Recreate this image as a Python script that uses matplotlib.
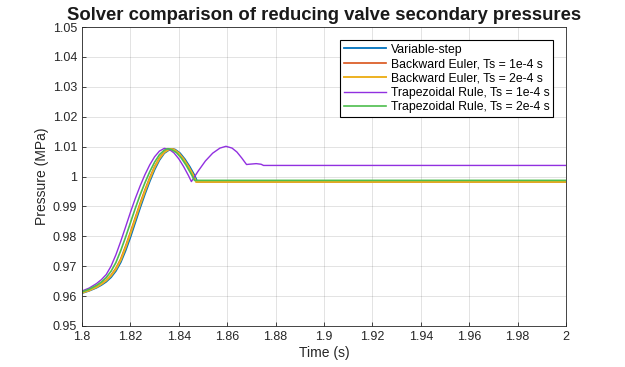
import matplotlib
matplotlib.use("Agg")
import matplotlib.pyplot as plt

plt.rcParams['font.family'] = ['Liberation Sans', 'DejaVu Sans']

labels = ["Variable-step", "Backward Euler, Ts = 1e-4 s", "Backward Euler, Ts = 2e-4 s",
          "Trapezoidal Rule, Ts = 1e-4 s", "Trapezoidal Rule, Ts = 2e-4 s"]
colors = ["#0072BD", "#D95319", "#EDB120", "#9130E0", "#4DBE4D"]

# Variable-step
t_vs = [1.800, 1.803, 1.806, 1.808, 1.810, 1.812, 1.814, 1.816, 1.818, 1.820, 1.822, 1.824,
        1.826, 1.828, 1.830, 1.832, 1.834, 1.836, 1.8375, 1.8385, 1.8405, 1.8425, 1.8445,
        1.8465, 1.8477, 2.000]
p_vs = [0.9610, 0.9618, 0.9628, 0.9637, 0.9648, 0.9663, 0.9684, 0.9713, 0.9752, 0.9797, 0.9846, 0.9895,
        0.9941, 0.9984, 1.0023, 1.0055, 1.0078, 1.0089, 1.0092, 1.0090, 1.0078, 1.0058, 1.0033,
        1.0004, 0.9982, 0.9982]
# Backward Euler 1e-4
t_be1 = [1.800, 1.803, 1.806, 1.808, 1.810, 1.812, 1.814, 1.816, 1.818, 1.820, 1.822, 1.824,
         1.826, 1.828, 1.830, 1.832, 1.834, 1.836, 1.837, 1.838, 1.840, 1.842, 1.844, 1.846,
         1.8472, 2.000]
p_be1 = [0.9612, 0.9620, 0.9631, 0.9641, 0.9653, 0.9670, 0.9693, 0.9724, 0.9767, 0.9813, 0.9862, 0.9910,
         0.9955, 0.9996, 1.0033, 1.0062, 1.0082, 1.0091, 1.0092, 1.0090, 1.0078, 1.0058, 1.0033, 1.0004,
         0.9982, 0.9982]
# Backward Euler 2e-4
t_be2 = [1.800, 1.803, 1.806, 1.808, 1.810, 1.812, 1.814, 1.816, 1.818, 1.820, 1.822, 1.824,
         1.826, 1.828, 1.830, 1.832, 1.834, 1.836, 1.837, 1.838, 1.840, 1.842, 1.844, 1.846,
         1.8472, 2.000]
p_be2 = [0.9611, 0.9619, 0.9630, 0.9640, 0.9652, 0.9668, 0.9690, 0.9720, 0.9762, 0.9808, 0.9857, 0.9905,
         0.9950, 0.9992, 1.0030, 1.0060, 1.0081, 1.0091, 1.0092, 1.0090, 1.0078, 1.0058, 1.0033, 1.0004,
         0.9982, 0.9982]
# Trapezoidal 1e-4
t_tr1 = [1.800, 1.803, 1.806, 1.808, 1.810, 1.812, 1.814, 1.816, 1.818, 1.820, 1.822, 1.824,
         1.826, 1.828, 1.830, 1.832, 1.834, 1.836, 1.838, 1.840, 1.842, 1.844, 1.8452,
         1.848, 1.851, 1.854, 1.857, 1.8595, 1.862, 1.864, 1.866, 1.868, 1.869, 1.872, 1.874,
         1.875, 2.000]
p_tr1 = [0.9617, 0.9627, 0.9642, 0.9655, 0.9672, 0.9700, 0.9738, 0.9783, 0.9831, 0.9880, 0.9926, 0.9968,
         1.0006, 1.0039, 1.0066, 1.0085, 1.0094, 1.0091, 1.0079, 1.0059, 1.0033, 1.0003, 0.9983,
         1.0018, 1.0052, 1.0078, 1.0095, 1.0101, 1.0095, 1.0082, 1.0062, 1.0040, 1.0041, 1.0043, 1.0041,
         1.0037, 1.0037]
# Trapezoidal 2e-4
t_tr2 = [1.800, 1.803, 1.806, 1.808, 1.810, 1.812, 1.814, 1.816, 1.818, 1.820, 1.822, 1.824,
         1.826, 1.828, 1.830, 1.832, 1.834, 1.8355, 1.837, 1.839, 1.841, 1.843, 1.845, 1.8465, 2.000]
p_tr2 = [0.9614, 0.9623, 0.9636, 0.9647, 0.9662, 0.9683, 0.9712, 0.9752, 0.9797, 0.9845, 0.9893, 0.9938,
         0.9979, 1.0016, 1.0048, 1.0073, 1.0088, 1.0093, 1.0090, 1.0080, 1.0062, 1.0038, 1.0010,
         0.9987, 0.9987]

series_t = [t_vs, t_be1, t_be2, t_tr1, t_tr2]
series_p = [p_vs, p_be1, p_be2, p_tr1, p_tr2]
widths = [1.3, 1.2, 1.4, 1.0, 1.2]

xticks = [1.8, 1.82, 1.84, 1.86, 1.88, 1.9, 1.92, 1.94, 1.96, 1.98, 2.0]
xticklabels = ["1.8", "1.82", "1.84", "1.86", "1.88", "1.9", "1.92", "1.94", "1.96", "1.98", "2"]
yticks = [0.95, 0.96, 0.97, 0.98, 0.99, 1.0, 1.01, 1.02, 1.03, 1.04, 1.05]
yticklabels = ["0.95", "0.96", "0.97", "0.98", "0.99", "1", "1.01", "1.02", "1.03", "1.04", "1.05"]

fig = plt.figure(figsize=(6.25, 3.67), dpi=100)
ax = fig.add_axes([82/625, 1-326/367, (566-82)/625, (326-27)/367])

for t, p, c, lab, w in zip(series_t, series_p, colors, labels, widths):
    ax.plot(t, p, color=c, lw=w, label=lab)

ax.set_xlim(1.8, 2.0)
ax.set_ylim(0.95, 1.05)
ax.set_xticks(xticks)
ax.set_xticklabels(xticklabels)
ax.set_yticks(yticks)
ax.set_yticklabels(yticklabels)
ax.grid(True, color="#262626", alpha=0.15, lw=0.6)
ax.tick_params(direction="in", labelsize=9, colors="#262626", length=3, width=0.6)
for s in ax.spines.values():
    s.set_color("#262626")
    s.set_linewidth(0.6)
ax.set_xlabel("Time (s)", fontsize=10, color="#262626", labelpad=2)
ax.set_ylabel("Pressure (MPa)", fontsize=10, color="#262626", labelpad=3)
ax.set_title("Solver comparison of reducing valve secondary pressures", fontsize=13.3,
             fontweight="bold", color="#1a1a1a", pad=5)

leg = ax.legend(loc="upper right", bbox_to_anchor=(553/625, 1-40/367), bbox_transform=fig.transFigure,
                fontsize=8.8, frameon=True, fancybox=False, framealpha=1, edgecolor="black",
                handlelength=3.4, labelspacing=0.2, borderpad=0.3, handletextpad=0.4,
                borderaxespad=0)
leg.get_frame().set_linewidth(0.8)

fig.savefig("out.png", dpi=100)
